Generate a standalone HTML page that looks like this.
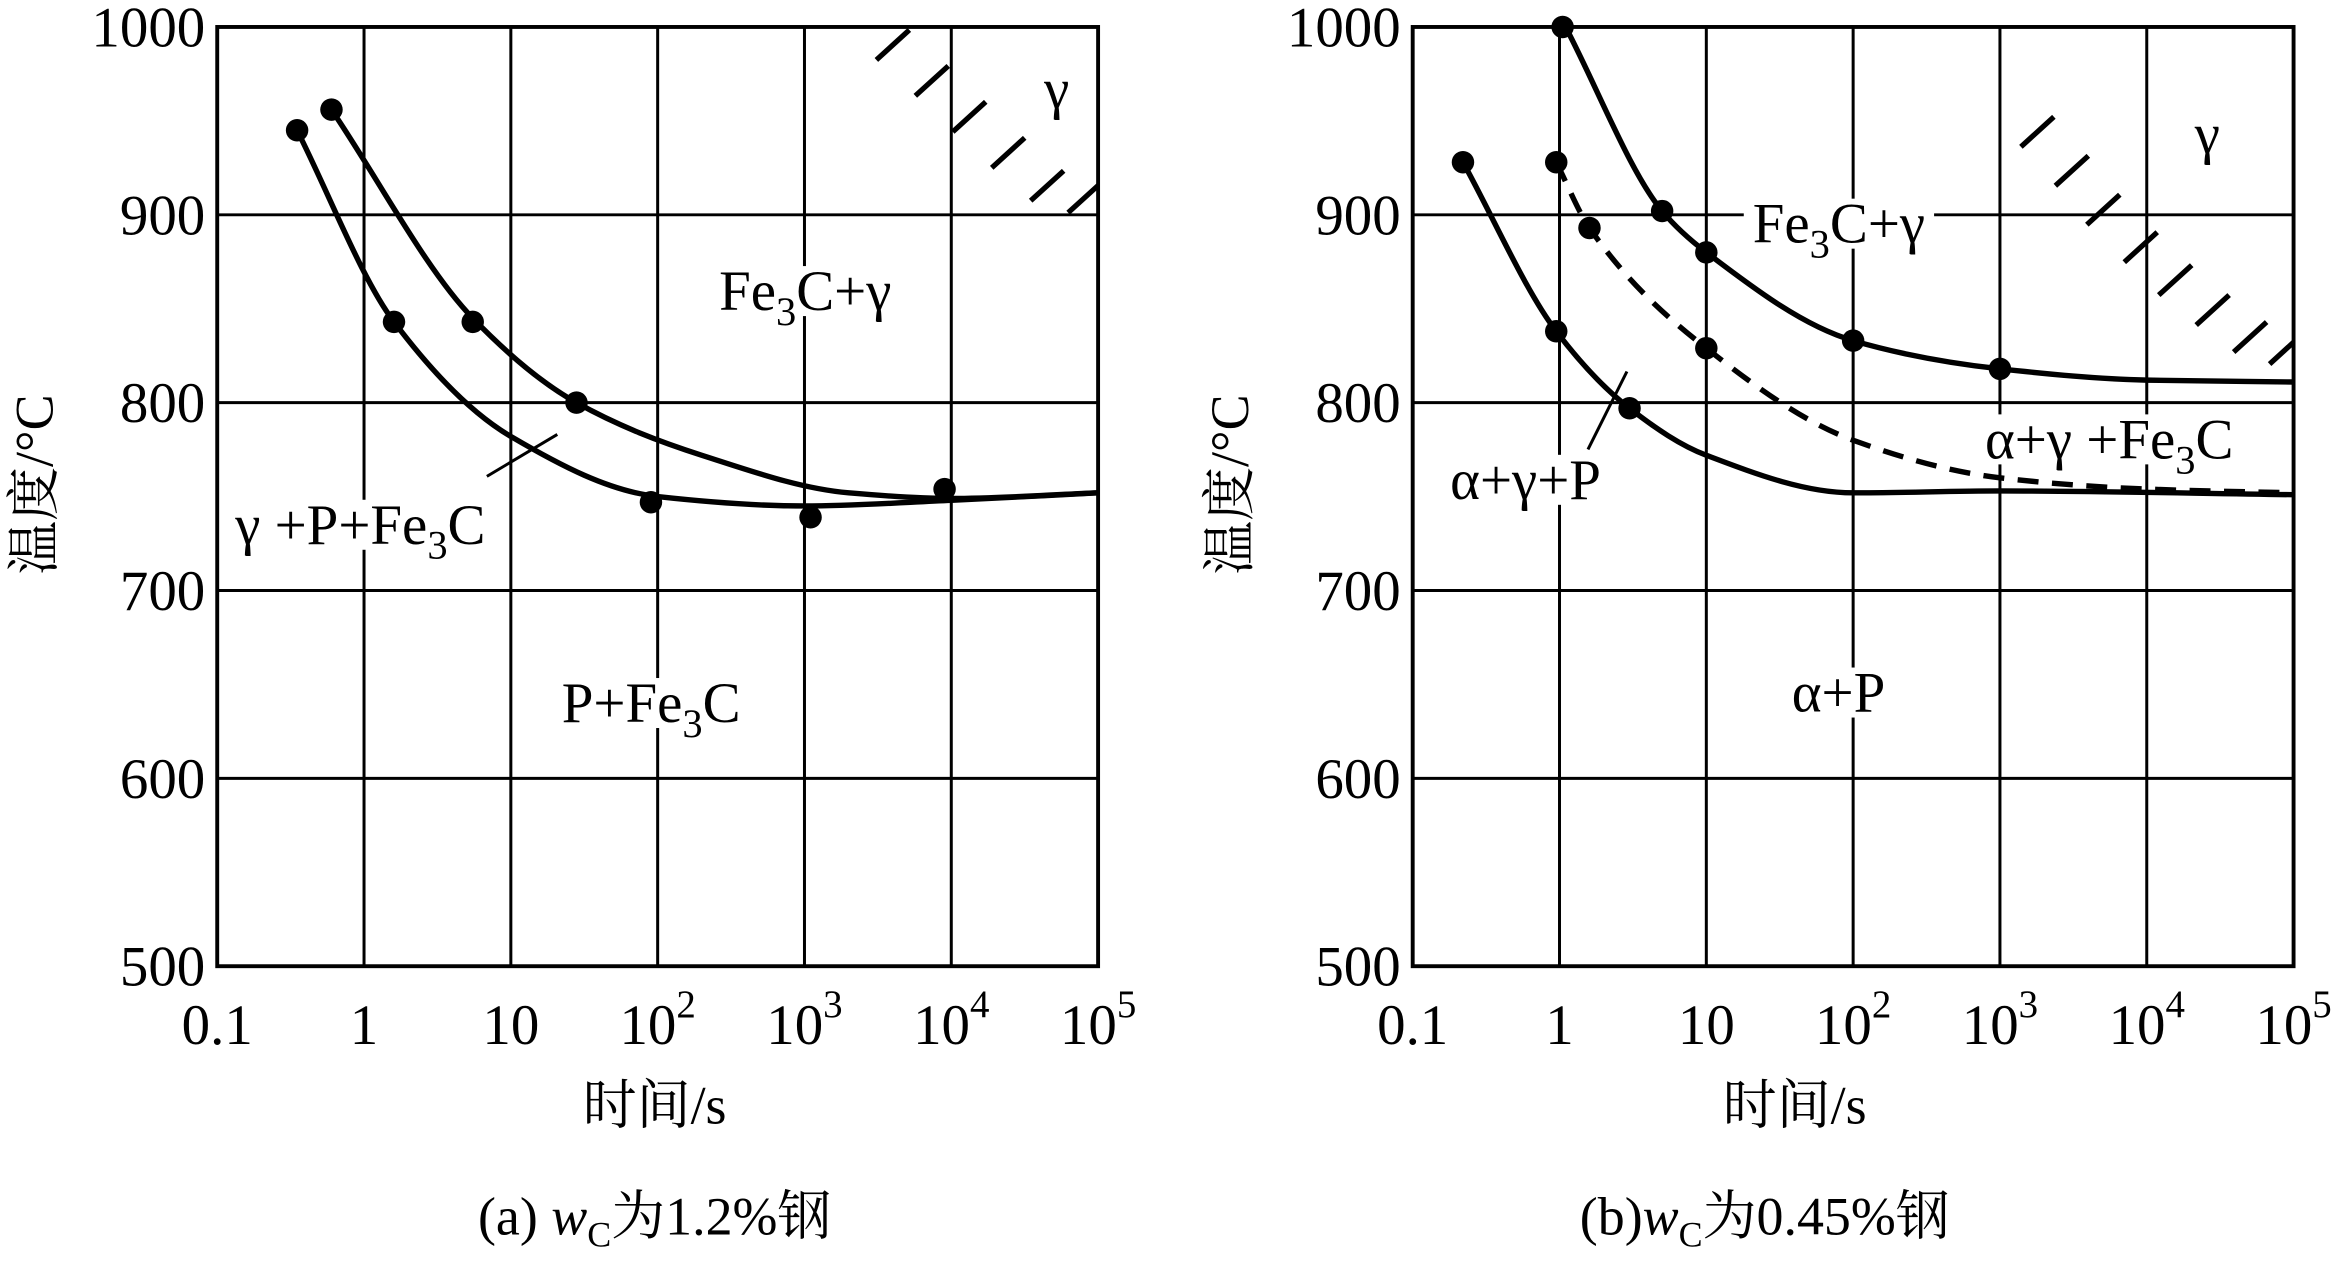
<!DOCTYPE html>
<html><head><meta charset="utf-8"><style>
html,body{margin:0;padding:0;background:#fff}
svg{display:block}
text{font-family:"Liberation Serif","DejaVu Serif","Noto Serif CJK SC",serif;fill:#000}
</style></head><body>
<svg id="fig" width="2349" height="1270" viewBox="0 0 1568 847.8" preserveAspectRatio="none" xmlns="http://www.w3.org/2000/svg">
<defs>
<clipPath id="ca"><rect x="145" y="18" width="588" height="627"/></clipPath>
<clipPath id="cb"><rect x="943" y="18" width="588" height="627"/></clipPath>
</defs>
<g id="pa"></g>
<g id="pb"></g>
</svg>
<script>
// ---- data ----
const yTicks = [1000, 900, 800, 700, 600, 500];
const xTickExp = [-1, 0, 1, 2, 3, 4, 5];
const xTickLabels = ["0.1", "1", "10", "10", "10", "10", "10"];
const xTickSup = ["", "", "", "2", "3", "4", "5"];
// panel a curves (time s, temperature °C)
const aLowerT = [0.35, 1.6, 10, 100, 1000, 10000, 100000];
const aLowerV = [945, 843, 782, 750, 745, 748, 752];
const aUpperT = [0.6, 5.5, 28, 200, 2000, 10000, 100000];
const aUpperV = [956, 845, 800, 772, 752, 749, 752];
const aDotT = [0.35, 1.6, 90, 1100, 0.6, 5.5, 28, 9000];
const aDotV = [945, 843, 747, 739, 956, 843, 800, 754];
// panel b curves
const bUpperT = [1.1, 5, 10, 100, 1000, 10000, 100000];
const bUpperV = [1000, 902, 880, 833, 818, 812, 811];
const bDashT = [0.95, 1.6, 10, 100, 1000, 10000, 100000];
const bDashV = [928, 893, 829, 780, 760, 754, 752];
const bLowerT = [0.22, 0.95, 3, 10, 100, 1000, 100000];
const bLowerV = [928, 838, 797, 772, 752, 753, 751];
const bDotT = [0.22, 0.95, 3, 0.95, 1.6, 10, 1.05, 5, 10, 100, 1000];
const bDotV = [928, 838, 797, 928, 893, 829, 1000, 902, 880, 833, 818];

const NS = "http://www.w3.org/2000/svg";
function mk(parent, tag, attrs) {
  const e = document.createElementNS(NS, tag);
  for (const k in attrs) e.setAttribute(k, attrs[k]);
  parent.appendChild(e);
  return e;
}
function mono(pts) {
  const n = pts.length, dx = [], m = [], t = [];
  for (let i = 0; i < n - 1; i++) { dx[i] = pts[i+1][0] - pts[i][0]; m[i] = (pts[i+1][1] - pts[i][1]) / dx[i]; }
  t[0] = m[0]; t[n-1] = m[n-2];
  for (let i = 1; i < n - 1; i++) {
    if (m[i-1] * m[i] <= 0) t[i] = 0;
    else { const w1 = 2*dx[i] + dx[i-1], w2 = dx[i] + 2*dx[i-1]; t[i] = (w1 + w2) / (w1 / m[i-1] + w2 / m[i]); }
  }
  let d = "M" + pts[0][0] + "," + pts[0][1];
  for (let i = 0; i < n - 1; i++) {
    const h = dx[i] / 3;
    d += " C" + (pts[i][0] + h) + "," + (pts[i][1] + t[i]*h) + " " + (pts[i+1][0] - h) + "," + (pts[i+1][1] - t[i+1]*h) + " " + pts[i+1][0] + "," + pts[i+1][1];
  }
  return d;
}
function panel(g, x0, x1, y0, y1, opts) {
  const X = t => x0 + (Math.log10(t) + 1) / 6 * (x1 - x0);
  const Y = v => y0 + (1000 - v) / 500 * (y1 - y0);
  yTicks.forEach(v => {
    const l = mk(g, "line", {x1: x0, x2: x1, y1: Y(v), y2: Y(v), stroke: "#000", "stroke-width": 2});
    
    
    const t = mk(g, "text", {x: x0 - 8, y: Y(v) + 13, "font-size": 38, "text-anchor": "end"});
    
    
    t.textContent = v;
  });
  xTickExp.forEach((e, i) => {
    const xx = X(Math.pow(10, e));
    const l = mk(g, "line", {x1: xx, x2: xx, y1: y0, y2: y1, stroke: "#000", "stroke-width": 2});
    
    
    const t = mk(g, "text", {x: xx, y: y1 + 52, "font-size": 38, "text-anchor": "middle"});
    
    
    t.textContent = xTickLabels[i];
    if (xTickSup[i]) {
      const s = mk(t, "tspan", {dy: -18, "font-size": 26});
      s.textContent = xTickSup[i];
    }
  });
  const fr = mk(g, "rect", {x: x0, y: y0, width: x1 - x0, height: y1 - y0, fill: "none", stroke: "#000", "stroke-width": 2.6});
  
  
  const hg = mk(g, "g", {"clip-path": opts.clip});
  
  
  opts.hatch.forEach(h => {
    const l = mk(hg, "line", {x1: h[0] - 11, y1: h[1] + 10, x2: h[0] + 11, y2: h[1] - 10, stroke: "#000", "stroke-width": 3.5});
    
    
  });
  opts.labels.forEach(L => {
    const bg = mk(g, "rect", {fill: "#fff"});
    
    
    const t = mk(g, "text", {x: L[0], y: L[1], "font-size": 38});
    
    
    L[2].forEach(part => {
      const s = mk(t, "tspan", part[1] ? {dy: 10, "font-size": 27} : {dy: part[2] || 0});
      s.textContent = part[0];
    });
    const b = t.getBBox();
    bg.setAttribute("x", b.x - 6); bg.setAttribute("y", b.y + 4);
    bg.setAttribute("width", b.width + 12); bg.setAttribute("height", Math.max(0, L[1] - b.y));
  });
  const cg = mk(g, "g", {"clip-path": opts.clip});
  opts.curves.forEach(c => {
    const pts = c.t.map((t, i) => [X(t), Y(c.v[i])]);
    const p = mk(cg, "path", {d: mono(pts), fill: "none", stroke: "#000", "stroke-width": 3.6, "stroke-dasharray": c.dash ? "14,9" : "none"});
    
    
  });
  (opts.leaders || []).forEach(p => {
    const l = mk(g, "line", {x1: p[0], y1: p[1], x2: p[2], y2: p[3], stroke: "#000", "stroke-width": 2});
    
    
  });
  opts.dotT.forEach((t, i) => {
    const d = mk(g, "circle", {cx: X(t), cy: Y(opts.dotV[i]), r: 7.5, fill: "#000"});
    
    
  });
  const yt = mk(g, "text", {x: 0, y: 0, "font-size": 36, "text-anchor": "middle", transform: "translate(" + (x0 - 110) + "," + ((y0 + y1) / 2 - 8) + ") rotate(-90)"});
  
  
  yt.textContent = "温度/°C";
  const xt = mk(g, "text", {x: opts.xtx, y: 750, "font-size": 36, "text-anchor": "middle"});
  
  
  xt.textContent = "时间/s";
  const cp = mk(g, "text", {x: opts.capx, y: 824, "font-size": 36, "text-anchor": "middle"});
  
  
  cp.textContent = opts.cap1;
  const w = mk(cp, "tspan", {"font-style": "italic"}); w.textContent = "w";
  const c = mk(cp, "tspan", {dy: 8, "font-size": 24}); c.textContent = "C";
  const r = mk(cp, "tspan", {dy: -8}); r.textContent = opts.cap2;
}
panel(document.getElementById("pa"), 145, 733, 18, 645, {
  clip: "url(#ca)",
  curves: [{t: aLowerT, v: aLowerV, name: "curve-lower"}, {t: aUpperT, v: aUpperV, name: "curve-upper"}],
  dotT: aDotT, dotV: aDotV,
  hatch: [[596, 30], [622, 54], [647, 78], [673, 102], [699, 124], [724, 132]],
  labels: [[480, 207, [["Fe"], ["3", 1], ["C+γ", 0, -10]]], [157, 363, [["γ +P+Fe"], ["3", 1], ["C", 0, -10]]],
           [375, 482, [["P+Fe"], ["3", 1], ["C", 0, -10]]], [697, 72, [["γ"]]]],
  leaders: [[325, 318, 372, 290]],
  xtx: 437, capx: 437, cap1: "(a) ", cap2: "为1.2%钢"
});
panel(document.getElementById("pb"), 943, 1531, 18, 645, {
  clip: "url(#cb)",
  curves: [{t: bUpperT, v: bUpperV, name: "curve-upper"}, {t: bDashT, v: bDashV, dash: true, name: "curve-dashed"}, {t: bLowerT, v: bLowerV, name: "curve-lower"}],
  dotT: bDotT, dotV: bDotV,
  hatch: [[1360, 88], [1383, 114], [1404, 140], [1429, 165], [1452, 187], [1477, 207], [1502, 225], [1526, 233]],
  labels: [[1170, 162, [["Fe"], ["3", 1], ["C+γ", 0, -10]]], [1325, 306, [["α+γ +Fe"], ["3", 1], ["C", 0, -10]]],
           [968, 333, [["α+γ+P"]]], [1196, 475, [["α+P"]]], [1465, 102, [["γ"]]]],
  leaders: [[1060, 300, 1086, 248]],
  xtx: 1198, capx: 1178, cap1: "(b)", cap2: "为0.45%钢"
});
</script>
</body></html>
